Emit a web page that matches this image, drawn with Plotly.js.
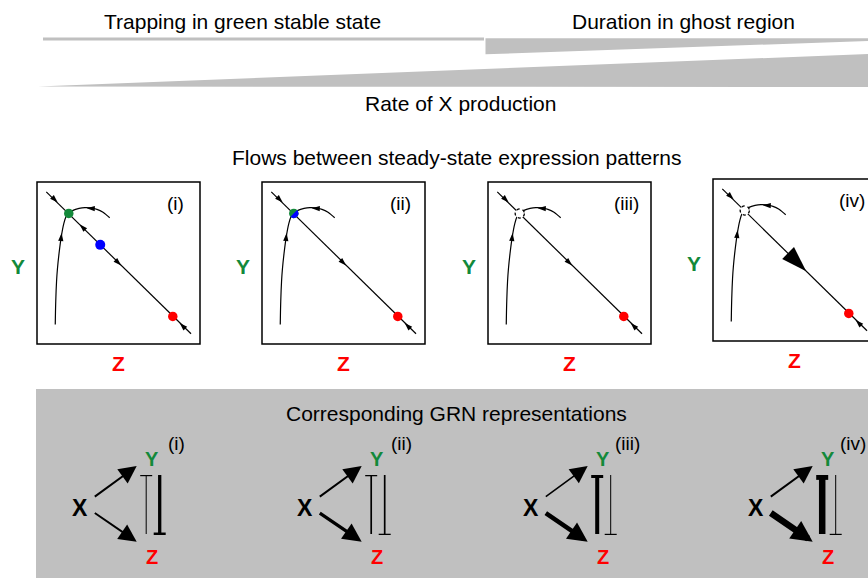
<!DOCTYPE html>
<html><head><meta charset="utf-8">
<script src="https://cdn.plot.ly/plotly-3.0.1.min.js"></script>
<style>html,body{margin:0;padding:0;background:#fff}#chart{width:868px;height:578px}</style>
</head><body><div id="chart"></div>
<script>
// ---------------- data ----------------
const headerLabels = ['Trapping in green stable state', 'Duration in ghost region'];
const rateLabel = 'Rate of X production';
const flowTitle = 'Flows between steady-state expression patterns';
const grnTitle = 'Corresponding GRN representations';
const panelIds = ['(i)', '(ii)', '(iii)', '(iv)'];

// phase portraits, normalised coordinates (Z along x, Y along y)
const diagZ = [0.057, 0.945];
const diagY = [0.939, 0.063];
const nullZ = [0.112, 0.115, 0.120, 0.125, 0.135, 0.149, 0.164, 0.178, 0.195];
const nullY = [0.121, 0.264, 0.387, 0.460, 0.558, 0.663, 0.742, 0.785, 0.806];
const arcZ = [0.195, 0.221, 0.258, 0.294, 0.331, 0.368, 0.405, 0.429, 0.446];
const arcY = [0.806, 0.825, 0.837, 0.842, 0.840, 0.831, 0.813, 0.794, 0.779];
const greenZY = [0.195, 0.806];
const blueZY = [0.388, 0.612];
const redZY = [0.833, 0.170];
const greenState = ['stable', 'merged', 'ghost', 'ghost'];
const showBlue = [true, false, false, false];

// flow arrows (tip position + direction, degrees clockwise from up)
const flowZ = [0.127, 0.875, 0.151, 0.305];
const flowY = [0.873, 0.130, 0.685, 0.838];
const flowAng = [135, -45, 6, -88];
const midFlowZ = [[0.261, 0.516], [0.516], [0.516], []];
const midFlowY = [[0.739, 0.484], [0.484], [0.484], []];
const midFlowAng = [[-45, 135], [135], [135], []];
const bigFlow = [null, null, null, [0.572, 0.431, 135]];

// GRN interaction strengths (drawn as line weights)
const actXY = [2.0, 2.0, 1.6, 2.0];
const actXZ = [2.0, 3.3, 4.5, 6.5];
const repZY = [1.0, 1.7, 4.0, 6.5];  // Z -| Y
const repYZ = [3.3, 1.7, 1.0, 1.0];  // Y -| Z

// ---------------- layout constants ----------------
const W = 868, H = 578;
const FONT = 'Liberation Sans, Arial, Helvetica, sans-serif';
const GREEN = '#13893a', RED = '#ff0000', BLUE = '#0000ff', GREY = '#c0c0c0';
const panelLeft = [37, 262, 488, 713];
const panelTop = [182, 182, 182, 179];
const boxW = 163, boxH = 162;

const traces = [];
const shapes = [];
const annotations = [];
const layout = {
  width: W, height: H,
  margin: {l: 0, r: 0, t: 0, b: 0},
  paper_bgcolor: '#fff', plot_bgcolor: 'rgba(0,0,0,0)',
  showlegend: false, hovermode: false,
  xaxis: {domain: [0, 1], range: [0, W], visible: false, fixedrange: true},
  yaxis: {domain: [0, 1], range: [H, 0], visible: false, fixedrange: true},
};

// dummy trace to activate the global axes
traces.push({type: 'scatter', mode: 'markers', x: [0], y: [0], xaxis: 'x', yaxis: 'y',
  marker: {size: 1, color: 'rgba(0,0,0,0)'}, hoverinfo: 'skip'});

// ---- top gradient bars ----
shapes.push({type: 'path', xref: 'x', yref: 'y', path: 'M43,37.5 L484,37.5 L484,40.5 L43,40.5 Z',
  fillcolor: GREY, line: {width: 0}});
shapes.push({type: 'path', xref: 'x', yref: 'y', path: 'M485.5,38.3 L868,38.3 L868,41 L485.5,54.3 Z',
  fillcolor: GREY, line: {width: 0}});
shapes.push({type: 'path', xref: 'x', yref: 'y', path: 'M38,86.5 L868,54 L868,87 Z',
  fillcolor: GREY, line: {width: 0}});

function txt(text, x, y, size, opts) {
  annotations.push(Object.assign({text: text, x: x, y: y, xref: 'x', yref: 'y', showarrow: false,
    xanchor: 'center', yanchor: 'middle', font: {family: FONT, size: size, color: '#000'}}, opts || {}));
}
txt(headerLabels[0], 242, 21, 21);
txt(headerLabels[1], 683, 21, 21);
txt(rateLabel, 460, 103, 21);
txt(flowTitle, 456, 157, 21);

// ---- grey GRN background ----
shapes.push({type: 'rect', xref: 'x', yref: 'y', x0: 36, x1: 868, y0: 389, y1: 578,
  fillcolor: GREY, line: {width: 0}, layer: 'below'});
txt(grnTitle, 456, 413, 21);

// ---- phase portrait panels ----
panelIds.forEach(function (id, k) {
  const n = k + 2, xa = 'x' + n, ya = 'y' + n;
  const L = panelLeft[k], T = panelTop[k];
  const d1 = Math.min(1, (L + boxW) / W);
  const widthPx = d1 * W - L;
  layout['xaxis' + n] = {domain: [L / W, d1], range: [0, widthPx / boxW], visible: false,
    fixedrange: true, anchor: ya};
  layout['yaxis' + n] = {domain: [1 - (T + boxH) / H, 1 - T / H], range: [0, 1], visible: false,
    fixedrange: true, anchor: xa};
  shapes.push({type: 'rect', xref: xa + ' domain', yref: ya + ' domain', x0: 0, x1: boxW / widthPx,
    y0: 0, y1: 1, line: {color: '#000', width: 1.5}, fillcolor: 'rgba(0,0,0,0)', layer: 'above'});

  const ln = {color: '#000', width: 1.2};
  traces.push({type: 'scatter', mode: 'lines', x: diagZ, y: diagY, xaxis: xa, yaxis: ya, line: ln, hoverinfo: 'skip'});
  traces.push({type: 'scatter', mode: 'lines', x: nullZ, y: nullY, xaxis: xa, yaxis: ya,
    line: {color: '#000', width: 1.2, shape: 'spline'}, hoverinfo: 'skip'});
  traces.push({type: 'scatter', mode: 'lines', x: arcZ, y: arcY, xaxis: xa, yaxis: ya,
    line: {color: '#000', width: 1.2, shape: 'spline'}, hoverinfo: 'skip'});

  traces.push({type: 'scatter', mode: 'markers', xaxis: xa, yaxis: ya, hoverinfo: 'skip',
    x: flowZ.concat(midFlowZ[k]), y: flowY.concat(midFlowY[k]),
    marker: {symbol: 'arrow', size: 8.5, color: '#000', angle: flowAng.concat(midFlowAng[k]), line: {width: 0}}});
  if (bigFlow[k]) {
    traces.push({type: 'scatter', mode: 'markers', xaxis: xa, yaxis: ya, hoverinfo: 'skip',
      x: [bigFlow[k][0]], y: [bigFlow[k][1]],
      marker: {symbol: 'arrow', size: 27, color: '#000', angle: [bigFlow[k][2]], line: {width: 0}}});
  }

  // fixed points
  traces.push({type: 'scatter', mode: 'markers', xaxis: xa, yaxis: ya, hoverinfo: 'skip',
    x: [redZY[0]], y: [redZY[1]], marker: {size: 9.5, color: RED, line: {width: 0}}});
  if (greenState[k] === 'stable' || greenState[k] === 'merged') {
    traces.push({type: 'scatter', mode: 'markers', xaxis: xa, yaxis: ya, hoverinfo: 'skip',
      x: [greenZY[0]], y: [greenZY[1]], marker: {size: 9.5, color: GREEN, line: {width: 0}}});
  }
  if (showBlue[k]) {
    traces.push({type: 'scatter', mode: 'markers', xaxis: xa, yaxis: ya, hoverinfo: 'skip',
      x: [blueZY[0]], y: [blueZY[1]], marker: {size: 10, color: BLUE, line: {width: 0}}});
  }
  if (greenState[k] === 'merged') {
    const r = 4.75 / boxW, pz = [], py = [];
    for (let a = -135; a <= 45; a += 15) {
      pz.push(greenZY[0] + r * Math.cos(a * Math.PI / 180));
      py.push(greenZY[1] + r * Math.sin(a * Math.PI / 180) * boxW / boxH);
    }
    traces.push({type: 'scatter', mode: 'lines', xaxis: xa, yaxis: ya, hoverinfo: 'skip',
      x: pz, y: py, fill: 'toself', fillcolor: BLUE, line: {width: 0, color: BLUE}});
  }
  if (greenState[k] === 'ghost') {
    const r = 4.6 / boxW, ry = 4.6 / boxH;
    shapes.push({type: 'circle', xref: xa, yref: ya, x0: greenZY[0] - r, x1: greenZY[0] + r,
      y0: greenZY[1] - ry, y1: greenZY[1] + ry, fillcolor: '#fff',
      line: {color: '#000', width: 1.3, dash: 'dot'}, layer: 'above'});
  }

  // labels
  const dw = boxW / widthPx;
  annotations.push({text: '<b>Y</b>', xref: xa + ' domain', yref: ya + ' domain', x: -0.115 * dw, y: 0.48,
    showarrow: false, xanchor: 'center', yanchor: 'middle', font: {family: FONT, size: 21, color: GREEN}});
  annotations.push({text: '<b>Z</b>', xref: xa + ' domain', yref: ya + ' domain', x: 0.5 * dw, y: -0.12,
    showarrow: false, xanchor: 'center', yanchor: 'middle', font: {family: FONT, size: 21, color: RED}});
  annotations.push({text: id, xref: xa + ' domain', yref: ya + ' domain', x: 0.85 * dw, y: 0.87,
    showarrow: false, xanchor: 'center', yanchor: 'middle', font: {family: FONT, size: 19, color: '#000'}});

  // ---- GRN diagram ----
  const Xc = L + 43, Yc = L + 114.7;
  txt('<b>X</b>', Xc, 508, 23);
  txt('<b>Y</b>', Yc, 459, 20, {font: {family: FONT, size: 20, color: GREEN}});
  txt('<b>Z</b>', Yc, 557, 20, {font: {family: FONT, size: 20, color: RED}});
  txt(id, Yc + 25, 443, 19);

  [[actXY[k], 497.7, 466], [actXZ[k], 512, 541.7]].forEach(function (e) {
    const w = e[0];
    annotations.push({text: '', xref: 'x', yref: 'y', axref: 'x', ayref: 'y',
      x: Yc - 15, y: e[2], ax: Xc + 13.3, ay: e[1], showarrow: true, arrowhead: 2,
      arrowwidth: w, arrowsize: Math.max(0.3, (16 + w * 0.8) / (5 * w)), arrowcolor: '#000', standoff: 0});
  });
  // Z -| Y (bar at Y end), left line
  const wl = repZY[k], xl = Yc - 5.5, tl = Math.max(1.2, wl * 0.75);
  shapes.push({type: 'line', xref: 'x', yref: 'y', x0: xl, x1: xl, y0: 475, y1: 534, line: {color: '#000', width: wl}});
  shapes.push({type: 'line', xref: 'x', yref: 'y', x0: xl - 6, x1: xl + 6, y0: 475 + tl / 2, y1: 475 + tl / 2,
    line: {color: '#000', width: tl}});
  // Y -| Z (bar at Z end), right line
  const wr = repYZ[k], xr = Yc + 8, tr = Math.max(1.2, wr * 0.75);
  shapes.push({type: 'line', xref: 'x', yref: 'y', x0: xr, x1: xr, y0: 475, y1: 535, line: {color: '#000', width: wr}});
  shapes.push({type: 'line', xref: 'x', yref: 'y', x0: xr - 6, x1: xr + 6, y0: 535 - tr / 2, y1: 535 - tr / 2,
    line: {color: '#000', width: tr}});
});

layout.shapes = shapes;
layout.annotations = annotations;
Plotly.newPlot('chart', traces, layout, {staticPlot: true, displayModeBar: false});
</script>
</body></html>
